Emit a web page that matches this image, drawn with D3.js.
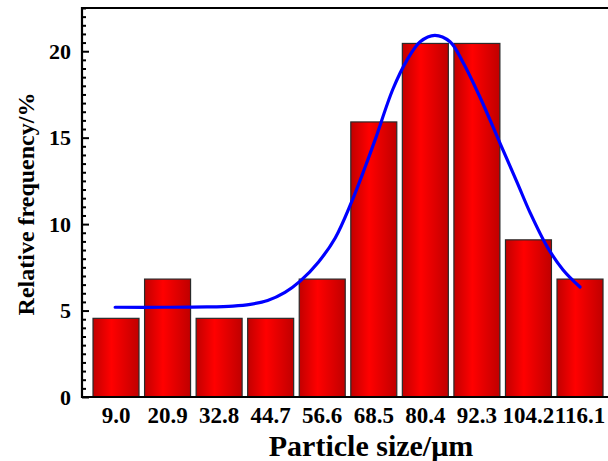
<!DOCTYPE html>
<html>
<head>
<meta charset="utf-8">
<script src="https://cdn.jsdelivr.net/npm/d3@7"></script>
<style>
  html, body { margin: 0; padding: 0; background: #fff; }
  svg { display: block; }
  text { font-family: "Times New Roman", "Liberation Serif", serif; font-weight: bold; fill: #000; }
</style>
</head>
<body>
<svg id="chart" width="608" height="461"></svg>
<script>
// Histogram bins: centre of each particle-size class (µm) and its relative frequency (%)
const sizeClasses = [9.0, 20.9, 32.8, 44.7, 56.6, 68.5, 80.4, 92.3, 104.2, 116.1];
const classLabels = ["9.0", "20.9", "32.8", "44.7", "56.6", "68.5", "80.4", "92.3", "104.2", "116.1"];
const frequency = [4.55, 6.82, 4.55, 4.55, 6.82, 15.91, 20.45, 20.45, 9.09, 6.82];

// Fitted distribution curve, sampled along the size axis
const fitSize = [8.8, 20, 30, 36, 40, 44, 48.0, 51.5, 55.7, 59.6, 63.4, 66.5, 68.8, 72.9, 76.2, 79.2,
                 82.6, 86.1, 89.1, 93.0, 97.6, 101.6, 104.6, 108.5, 112.2, 116.1];
const fitFreq = [5.19, 5.19, 5.21, 5.26, 5.36, 5.58, 6.05, 6.7, 7.8, 9.2, 11.3, 13.3, 14.87, 17.8, 19.5, 20.55,
                 20.92, 20.55, 19.35, 17.35, 14.7, 12.4, 10.65, 8.7, 7.35, 6.36];

// Axis set-up
const yTicks = [0, 5, 10, 15, 20];
const xDomain = [1.15, 122.56];
const yDomain = [0, 22.5];
const binWidth = 11.9;

const svg = d3.select("#chart");
const plotLeft = 82, plotRight = 608, plotTop = 8, plotBottom = 397;

const x = d3.scaleLinear().domain(xDomain).range([plotLeft, plotRight]);
const y = d3.scaleLinear().domain(yDomain).range([plotBottom, plotTop]);

// Horizontal shading for the bars
const defs = svg.append("defs");
const grad = defs.append("linearGradient").attr("id", "barShade")
  .attr("x1", "0%").attr("x2", "100%").attr("y1", "0%").attr("y2", "0%");
grad.append("stop").attr("offset", "0%").attr("stop-color", "#c20000");
grad.append("stop").attr("offset", "40%").attr("stop-color", "#ff0000");
grad.append("stop").attr("offset", "100%").attr("stop-color", "#c00000");

// Bars
const barW = binWidth * 0.892;
svg.append("g").selectAll("rect")
  .data(sizeClasses)
  .join("rect")
  .attr("x", (d) => x(d - barW / 2))
  .attr("width", (d) => x(d + barW / 2) - x(d - barW / 2))
  .attr("y", (d, i) => y(frequency[i]))
  .attr("height", (d, i) => y(0) - y(frequency[i]))
  .attr("fill", "url(#barShade)")
  .attr("stroke", "#2a2a2a")
  .attr("stroke-width", 1.2);

// Fitted curve
const line = d3.line()
  .x((d, i) => x(fitSize[i]))
  .y((d) => y(d))
  .curve(d3.curveCatmullRom.alpha(0.5));
svg.append("path")
  .attr("d", line(fitFreq))
  .attr("fill", "none")
  .attr("stroke", "#0000ff")
  .attr("stroke-width", 3.2)
  .attr("stroke-linecap", "round");

// Left axis with inward major and minor ticks
const yMinor = d3.range(0, 22.5 + 0.001, 0.5).filter((v) => v % 5 !== 0);
const yAxisMajor = d3.axisRight(y).tickValues(yTicks).tickSize(7).tickFormat("");
const yAxisMinor = d3.axisRight(y).tickValues(yMinor).tickSize(4).tickFormat("");
const gMinor = svg.append("g").attr("transform", `translate(${plotLeft},0)`).call(yAxisMinor);
const gMajor = svg.append("g").attr("transform", `translate(${plotLeft},0)`).call(yAxisMajor);
[gMinor, gMajor].forEach((g) => {
  g.select(".domain").remove();
  g.selectAll("line").attr("stroke", "#000").attr("stroke-width", 2);
});

// Y tick labels
svg.append("g").selectAll("text")
  .data(yTicks)
  .join("text")
  .attr("x", plotLeft - 11)
  .attr("y", (d) => y(d))
  .attr("dy", "0.35em")
  .attr("text-anchor", "end")
  .attr("font-size", 22)
  .text((d) => d);

// X tick labels under each bin
svg.append("g").selectAll("text")
  .data(sizeClasses)
  .join("text")
  .attr("x", (d) => x(d))
  .attr("y", 423)
  .attr("text-anchor", "middle")
  .attr("font-size", 23)
  .text((d, i) => classLabels[i]);

// Frame lines: left, top and bottom
svg.append("line").attr("x1", plotLeft).attr("x2", plotLeft).attr("y1", plotTop - 1).attr("y2", plotBottom + 1)
  .attr("stroke", "#000").attr("stroke-width", 2.2);
svg.append("line").attr("x1", plotLeft).attr("x2", plotRight).attr("y1", plotTop).attr("y2", plotTop)
  .attr("stroke", "#000").attr("stroke-width", 2.2);
svg.append("line").attr("x1", plotLeft).attr("x2", plotRight).attr("y1", plotBottom).attr("y2", plotBottom)
  .attr("stroke", "#000").attr("stroke-width", 2.2);

// Axis titles
svg.append("text")
  .attr("x", 371)
  .attr("y", 456)
  .attr("text-anchor", "middle")
  .attr("font-size", 30)
  .text("Particle size/μm");

svg.append("text")
  .attr("transform", `translate(34,${204}) rotate(-90)`)
  .attr("text-anchor", "middle")
  .attr("font-size", 24)
  .text("Relative frequency/%");
</script>
</body>
</html>
